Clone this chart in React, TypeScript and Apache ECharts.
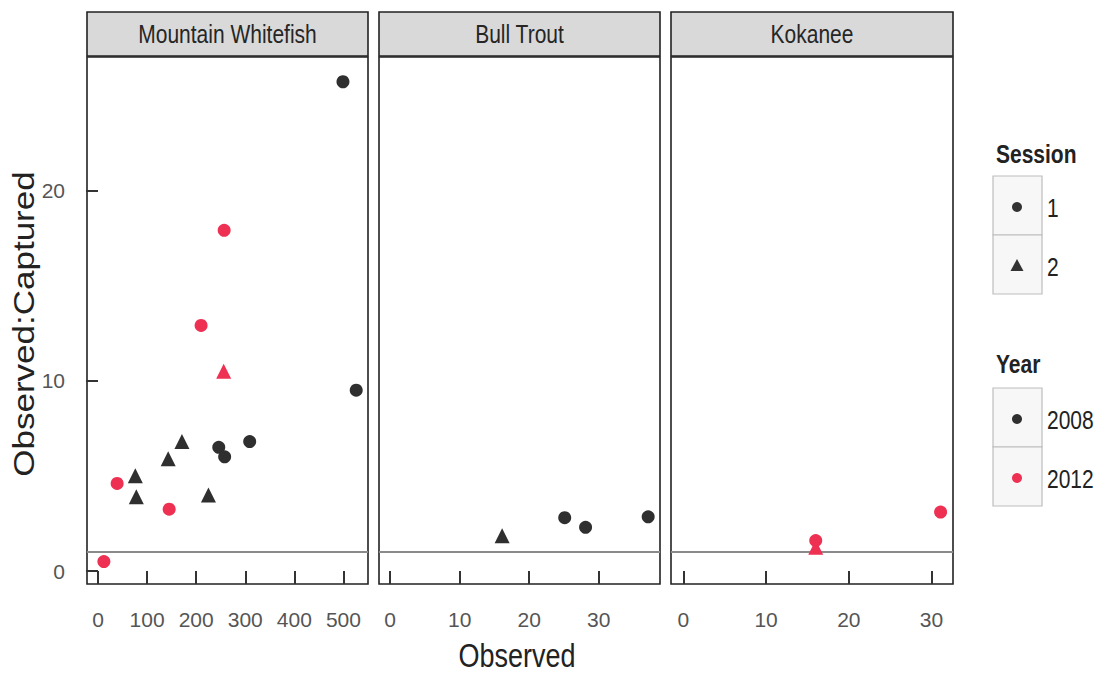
import React, { useEffect, useRef } from "react";
import * as echarts from "echarts";

// ---- Data ----
const panelNames = ["Mountain Whitefish", "Bull Trout", "Kokanee"];
const xTickValues = [
  [0, 100, 200, 300, 400, 500],
  [0, 10, 20, 30],
  [0, 10, 20, 30],
];
const xMins = [-22.4, -1.6, -1.5];
const xMaxs = [550, 38.8, 32.6];
const yTickValues = [0, 10, 20];
const yMin = -0.68;
const yMax = 27.0;
const referenceRatio = 1;

const years = ["2008", "2012"];
const sessions = ["1", "2"];

// Mountain Whitefish
const mwf_2008_s1 = [[499, 25.7], [526, 9.5], [246, 6.5], [258, 6.0], [309, 6.8]];
const mwf_2008_s2 = [[171, 6.8], [143, 5.9], [76, 5.0], [78, 3.9], [225, 4.0]];
const mwf_2012_s1 = [[257, 17.9], [210, 12.9], [39, 4.6], [145, 3.25], [12, 0.5]];
const mwf_2012_s2 = [[256, 10.5]];
// Bull Trout
const bt_2008_s1 = [[25.1, 2.8], [28.1, 2.3], [37.1, 2.85]];
const bt_2008_s2 = [[16.1, 1.85]];
const bt_2012_s1: number[][] = [];
const bt_2012_s2: number[][] = [];
// Kokanee
const kok_2008_s1: number[][] = [];
const kok_2008_s2: number[][] = [];
const kok_2012_s1 = [[16, 1.6], [31.1, 3.1]];
const kok_2012_s2 = [[16, 1.25]];

const panelData = [
  { "2008": [mwf_2008_s1, mwf_2008_s2], "2012": [mwf_2012_s1, mwf_2012_s2] },
  { "2008": [bt_2008_s1, bt_2008_s2], "2012": [bt_2012_s1, bt_2012_s2] },
  { "2008": [kok_2008_s1, kok_2008_s2], "2012": [kok_2012_s1, kok_2012_s2] },
];

// ---- Styles ----
const FONT = "Liberation Sans, Arial, sans-serif";
const yearColors: Record<string, string> = { "2008": "#2f2f2f", "2012": "#ee3052" };
const sessionSymbols = ["circle", "triangle"];
const sessionSizes = [13, 15];
const gridLefts = [87, 379, 671];
const gridWidths = [281, 281, 282];
const gridTop = 57;
const gridHeight = 527;

export default function App() {
  const ref = useRef<HTMLDivElement>(null);

  useEffect(() => {
    if (!ref.current) return;
    const chart = echarts.init(ref.current, undefined, { renderer: "svg" });

    const grids = gridLefts.map((l, i) => ({
      left: l,
      top: gridTop,
      width: gridWidths[i],
      height: gridHeight,
      show: true,
      borderColor: "#222",
      borderWidth: 1.6,
      backgroundColor: "#fff",
    }));

    const xAxes = panelNames.map((_, i) => ({
      type: "value",
      gridIndex: i,
      min: xMins[i],
      max: xMaxs[i],
      axisLine: { show: false },
      splitLine: { show: false },
      axisTick: {
        show: true,
        length: 13,
        customValues: xTickValues[i],
        lineStyle: { color: "#333", width: 2 },
      },
      axisLabel: {
        show: true,
        customValues: xTickValues[i],
        margin: 25,
        fontSize: 21,
        color: "#555",
        fontFamily: FONT,
      },
    }));

    const yAxes = panelNames.map((_, i) => ({
      type: "value",
      gridIndex: i,
      min: yMin,
      max: yMax,
      axisLine: { show: false },
      splitLine: { show: false },
      axisTick: {
        show: i === 0,
        length: 12,
        customValues: yTickValues,
        lineStyle: { color: "#333", width: 2 },
      },
      axisLabel: {
        show: i === 0,
        customValues: yTickValues,
        margin: 22,
        fontSize: 21,
        color: "#555",
        fontFamily: FONT,
      },
    }));

    const series: any[] = [];
    panelNames.forEach((_, i) => {
      series.push({
        type: "line",
        xAxisIndex: i,
        yAxisIndex: i,
        data: [
          [xMins[i], referenceRatio],
          [xMaxs[i], referenceRatio],
        ],
        symbol: "none",
        silent: true,
        lineStyle: { color: "#8a8a8a", width: 2 },
        z: 1,
      });
      years.forEach((yr) => {
        sessions.forEach((s, si) => {
          const d = (panelData[i] as any)[yr][si];
          series.push({
            type: "scatter",
            name: `${yr}-${s}`,
            xAxisIndex: i,
            yAxisIndex: i,
            data: d,
            symbol: sessionSymbols[si],
            symbolSize: sessionSizes[si],
            itemStyle: { color: yearColors[yr], opacity: 1 },
            z: 3,
          });
        });
      });
    });

    const graphics: any[] = [];
    panelNames.forEach((name, i) => {
      graphics.push({
        type: "rect",
        shape: { x: gridLefts[i], y: 12, width: gridWidths[i], height: 44 },
        style: { fill: "#d9d9d9", stroke: "#222", lineWidth: 1.6 },
        z: 10,
      });
      graphics.push({
        type: "text",
        x: gridLefts[i] + gridWidths[i] / 2,
        y: 34,
        scaleY: 1.2,
        style: {
          text: name,
          fontSize: 21,
          fontFamily: FONT,
          fill: "#262626",
          textAlign: "center",
          textVerticalAlign: "middle",
        },
        z: 11,
      });
    });

    // Axis titles
    graphics.push({
      type: "text",
      x: 517,
      y: 656,
      scaleY: 1.2,
      style: {
        text: "Observed",
        fontSize: 27,
        fontFamily: FONT,
        fill: "#222",
        textAlign: "center",
        textVerticalAlign: "middle",
      },
    });
    graphics.push({
      type: "text",
      x: 24,
      y: 324,
      rotation: Math.PI / 2,
      scaleX: 1.25,
      scaleY: 1.05,
      style: {
        text: "Observed:Captured",
        fontSize: 28,
        fontFamily: FONT,
        fill: "#222",
        textAlign: "center",
        textVerticalAlign: "middle",
      },
    });

    // Legends
    const legendBox = (title: string, titleY: number, boxTop: number, labels: string[], drawKey: (idx: number, cx: number, cy: number) => any) => {
      graphics.push({
        type: "text",
        x: 996,
        y: titleY,
        scaleY: 1.2,
        style: {
          text: title,
          fontSize: 21,
          fontWeight: "bold",
          fontFamily: FONT,
          fill: "#222",
          textAlign: "left",
          textVerticalAlign: "middle",
        },
      });
      labels.forEach((lab, k) => {
        const top = boxTop + k * 59;
        graphics.push({
          type: "rect",
          shape: { x: 993, y: top, width: 49, height: 59 },
          style: { fill: "#f7f7f7", stroke: "#bdbdbd", lineWidth: 1.2 },
        });
        graphics.push(drawKey(k, 1017, top + 31));
        graphics.push({
          type: "text",
          x: 1047,
          y: top + 32,
          scaleY: 1.2,
          style: {
            text: lab,
            fontSize: 21,
            fontFamily: FONT,
            fill: "#222",
            textAlign: "left",
            textVerticalAlign: "middle",
          },
        });
      });
    };

    legendBox("Session", 154, 176, sessions, (k, cx, cy) =>
      k === 0
        ? { type: "circle", shape: { cx, cy, r: 5 }, style: { fill: "#333" } }
        : {
            type: "polygon",
            shape: { points: [[cx, cy - 7], [cx + 6.5, cy + 5], [cx - 6.5, cy + 5]] },
            style: { fill: "#333" },
          }
    );
    legendBox("Year", 364, 388, years, (k, cx, cy) => ({
      type: "circle",
      shape: { cx, cy, r: 5 },
      style: { fill: yearColors[years[k]] },
    }));

    chart.setOption({
      animation: false,
      backgroundColor: "#fff",
      grid: grids,
      xAxis: xAxes,
      yAxis: yAxes,
      series,
      graphic: graphics,
    });

    return () => chart.dispose();
  }, []);

  return (
    <div
      ref={ref}
      style={{ position: "absolute", left: 0, top: 0, width: 1097, height: 673 }}
    />
  );
}
